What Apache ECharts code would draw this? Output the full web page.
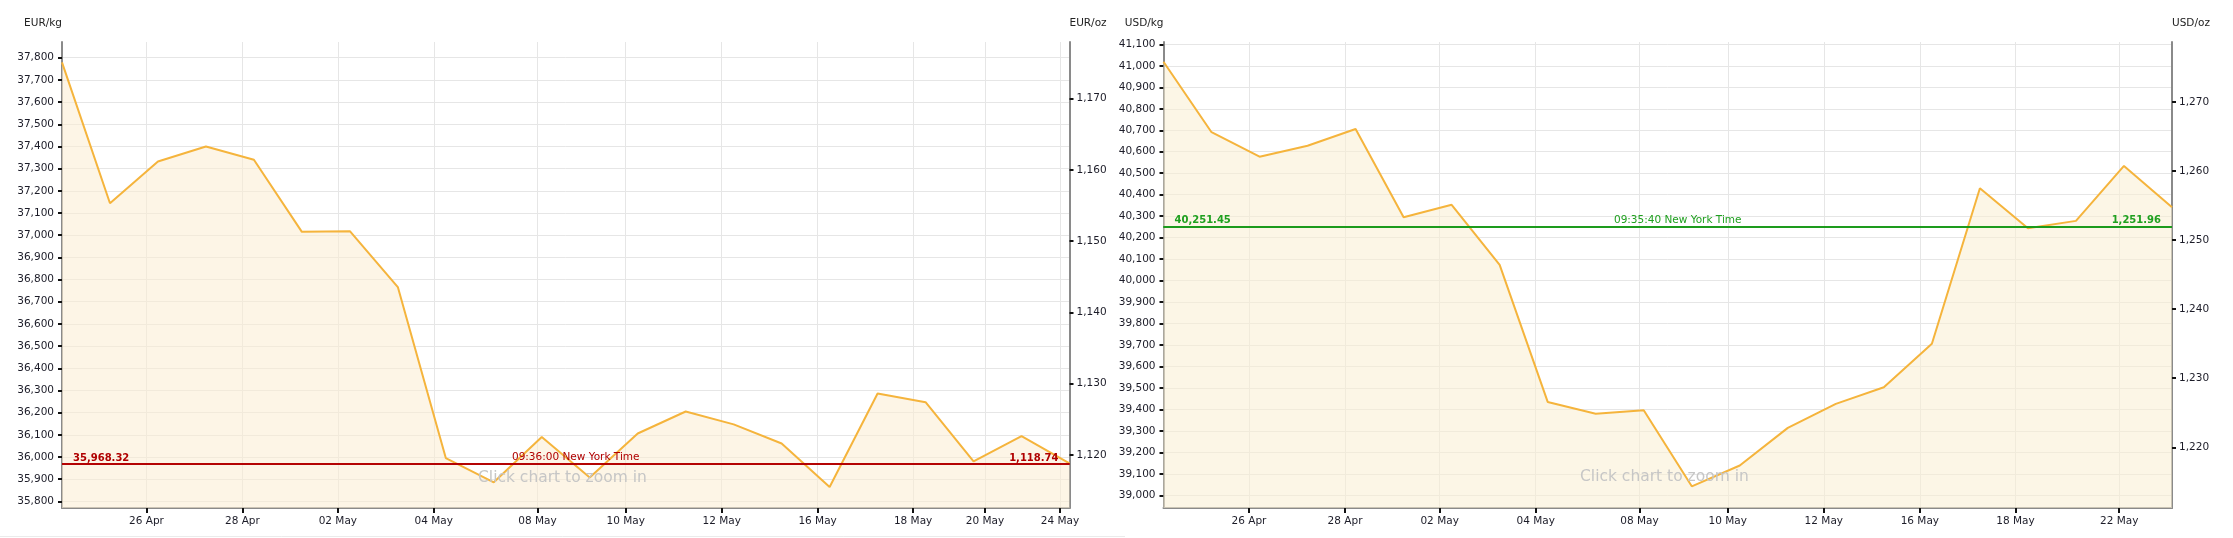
<!DOCTYPE html>
<html>
<head>
<meta charset="utf-8">
<script src="https://cdn.jsdelivr.net/npm/echarts@6/dist/echarts.min.js"></script>
<style>
html,body{margin:0;padding:0;background:#ffffff;}
#c{width:2233px;height:538px;}
</style>
</head>
<body>
<div id="c"></div>
<script>
// ---- data ----
const dayIndex = [0,1,2,3,4,5,6,7,8,9,10,11,12,13,14,15,16,17,18,19,20,21];
const eurKg = [37779,37144,37332,37400,37340,37015,37018,36766,35995,35886,36090,35908,36106,36205,36147,36061,35865,36286,36247,35980,36094,35971];
const usdKg = [41019,40691,40577,40628,40706,40295,40353,40073,39435,39380,39396,39042,39139,39314,39426,39503,39706,40430,40244,40278,40534,40342];

const eurTickPos = [1.76,3.76,5.75,7.75,9.91,11.75,13.75,15.75,17.74,19.24,20.8];
const eurTickLabels = ['26 Apr','28 Apr','02 May','04 May','08 May','10 May','12 May','16 May','18 May','20 May','24 May'];
const usdTickPos = [1.78,3.78,5.75,7.75,9.91,11.75,13.75,15.75,17.74,19.9];
const usdTickLabels = ['26 Apr','28 Apr','02 May','04 May','08 May','10 May','12 May','16 May','18 May','22 May'];

const eurKgTicks = [35800,35900,36000,36100,36200,36300,36400,36500,36600,36700,36800,36900,37000,37100,37200,37300,37400,37500,37600,37700,37800];
const eurOzTicks = [1120,1130,1140,1150,1160,1170];
const usdKgTicks = [39000,39100,39200,39300,39400,39500,39600,39700,39800,39900,40000,40100,40200,40300,40400,40500,40600,40700,40800,40900,41000,41100];
const usdOzTicks = [1220,1230,1240,1250,1260,1270];

const eurRange = [35770, 37871];
const usdRange = [38941, 41111];
const OZ_PER_KG = 32.1507;

const eurCurrentKg = 35968.32;
const eurCurrentKgText = '35,968.32';
const eurCurrentOzText = '1,118.74';
const eurTime = '09:36:00 New York Time';
const usdCurrentKg = 40251.45;
const usdCurrentKgText = '40,251.45';
const usdCurrentOzText = '1,251.96';
const usdTime = '09:35:40 New York Time';

// ---- chart ----
const FONT = 'DejaVu Sans';
const fmt = v => Math.round(v).toLocaleString('en-US');

function kgAxis(gi, range, ticks, name) {
  return {
    type: 'value', gridIndex: gi, position: 'left', min: range[0], max: range[1],
    name: name, nameLocation: 'end', nameGap: 13,
    nameTextStyle: {align: 'right', verticalAlign: 'bottom', fontFamily: FONT, fontSize: 10.5, color: '#222'},
    axisLine: {show: true, lineStyle: {color: '#8a8a8a', width: 2}},
    axisTick: {show: true, customValues: ticks, length: 4, lineStyle: {color: '#111', width: 2}},
    axisLabel: {customValues: ticks, formatter: v => fmt(v), margin: 8, fontFamily: FONT, fontSize: 10.5, color: '#1c1c28'},
    splitLine: {show: true, lineStyle: {color: '#e6e6e6', width: 1}}
  };
}
function ozAxis(gi, range, ticks, name) {
  return {
    type: 'value', gridIndex: gi, position: 'right', min: range[0] / OZ_PER_KG, max: range[1] / OZ_PER_KG,
    name: name, nameLocation: 'end', nameGap: 13,
    nameTextStyle: {align: 'left', verticalAlign: 'bottom', fontFamily: FONT, fontSize: 10.5, color: '#222'},
    axisLine: {show: true, lineStyle: {color: '#8a8a8a', width: 2}},
    axisTick: {show: true, customValues: ticks, length: 4, lineStyle: {color: '#111', width: 2}},
    axisLabel: {customValues: ticks, formatter: v => fmt(v), margin: 7, fontFamily: FONT, fontSize: 10.5, color: '#1c1c28'},
    splitLine: {show: false}
  };
}
function dateAxis(gi, pos, labels) {
  return {
    type: 'value', gridIndex: gi, min: 0, max: dayIndex[dayIndex.length - 1],
    axisLine: {show: true, lineStyle: {color: '#8a8a8a', width: 2}},
    axisTick: {show: true, customValues: pos, length: 5, lineStyle: {color: '#111', width: 2}},
    axisLabel: {
      customValues: pos, margin: 8, fontFamily: FONT, fontSize: 10.5, color: '#1c1c28',
      formatter: v => { const i = pos.findIndex(p => Math.abs(p - v) < 1e-6); return i >= 0 ? labels[i] : ''; }
    },
    splitLine: {show: true, lineStyle: {color: '#e6e6e6', width: 1}}
  };
}
function priceLine(value, leftText, midText, rightText, lineColor, textColor) {
  const base = {fontFamily: FONT, color: textColor};
  return {
    symbol: 'none', silent: true, animation: false,
    lineStyle: {color: lineColor, width: 1.5, type: 'solid'},
    emphasis: {disabled: true},
    data: [
      {yAxis: value, label: Object.assign({position: 'insideStartTop', formatter: leftText, fontWeight: 'bold', fontSize: 10, distance: [11, 1]}, base)},
      {yAxis: value, label: Object.assign({position: 'insideMiddleTop', formatter: midText, fontSize: 10.5, distance: [0, 1], offset: [10, 0]}, base)},
      {yAxis: value, label: Object.assign({position: 'insideEndTop', formatter: rightText, fontWeight: 'bold', fontSize: 10, distance: [11, 1]}, base)}
    ]
  };
}

const chart = echarts.init(document.getElementById('c'), null, {renderer: 'canvas'});
chart.setOption({
  animation: false,
  backgroundColor: '#ffffff',
  grid: [
    {left: 62, top: 42, width: 1007.5, height: 466},
    {left: 1163.5, top: 42, width: 1008.5, height: 466}
  ],
  xAxis: [dateAxis(0, eurTickPos, eurTickLabels), dateAxis(1, usdTickPos, usdTickLabels)],
  yAxis: [
    kgAxis(0, eurRange, eurKgTicks, 'EUR/kg'),
    ozAxis(0, eurRange, eurOzTicks, 'EUR/oz'),
    kgAxis(1, usdRange, usdKgTicks, 'USD/kg'),
    ozAxis(1, usdRange, usdOzTicks, 'USD/oz')
  ],
  series: [
    {
      type: 'line', xAxisIndex: 0, yAxisIndex: 0, symbol: 'none',
      data: dayIndex.map((d, i) => [d, eurKg[i]]),
      lineStyle: {color: '#F5B43C', width: 2},
      areaStyle: {color: 'rgba(252,238,212,0.82)', origin: 'start'},
      markLine: priceLine(eurCurrentKg, eurCurrentKgText, eurTime, eurCurrentOzText, '#b30000', '#b00000')
    },
    {
      type: 'line', xAxisIndex: 1, yAxisIndex: 2, symbol: 'none',
      data: dayIndex.map((d, i) => [d, usdKg[i]]),
      lineStyle: {color: '#F5B43C', width: 2},
      areaStyle: {color: 'rgba(249,239,211,0.82)', origin: 'start'},
      markLine: priceLine(usdCurrentKg, usdCurrentKgText, usdTime, usdCurrentOzText, '#1a9a1a', '#1fa01f')
    }
  ],
  graphic: [
    {type: 'text', x: 478, y: 478, z: 100, silent: true,
     style: {text: 'Click chart to zoom in', fill: '#c6c6c6', fontSize: 15.5, fontFamily: FONT, verticalAlign: 'middle'}},
    {type: 'text', x: 1580, y: 477, z: 100, silent: true,
     style: {text: 'Click chart to zoom in', fill: '#c6c6c6', fontSize: 15.5, fontFamily: FONT, verticalAlign: 'middle'}},
    {type: 'line', z: 0, silent: true, shape: {x1: 0, y1: 536.5, x2: 1125, y2: 536.5}, style: {stroke: '#ebebeb', lineWidth: 1}}
  ]
});
</script>
</body>
</html>
